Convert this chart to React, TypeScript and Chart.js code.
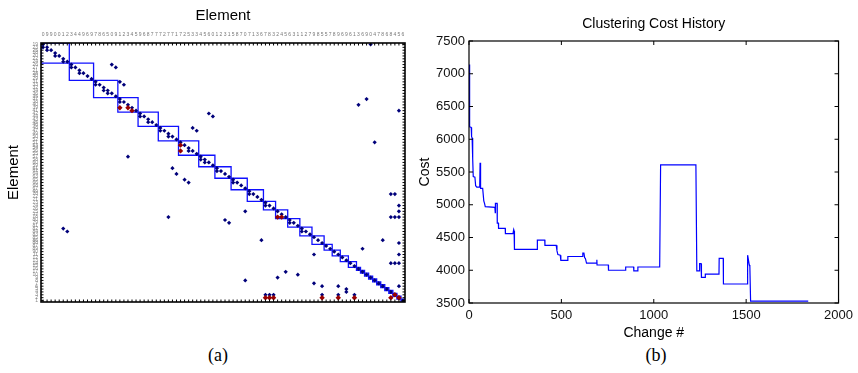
import React, { useEffect, useRef } from "react";
import { Chart, registerables } from "chart.js";

Chart.register(...registerables);

// ---------- Panel (a): element matrix ----------
const TOP_LABELS = "099001234496978650912345968777277172533456012315870713678324563112798557896961369047868456"
  .split("");
const LEFT_LABELS = (
  "19 23 25 18 20 22 24 26 27 21 28 30 29 31 33 32 34 36 35 37 38 40 39 41 42 44 43 45 46 48 " +
  "47 49 50 52 51 53 54 56 55 57 58 60 59 61 62 64 63 65 66 68 67 69 70 72 71 73 74 76 75 77 " +
  "78 80 79 81 82 84 83 85 86 88 87 89 90 11 12 13 14 15 16 17 10 9 8 7 6 5 4 3 2 1"
).split(" ");

// cluster boundaries (element index where each cluster starts; last = end)
const CLUSTER_EDGES = [0, 7, 13, 19, 24, 29, 34, 39, 43, 47, 51, 55, 58, 61, 64, 67, 70, 72, 74, 76, 78, 79, 80, 81, 82, 83, 84, 85, 86, 87, 88, 89, 90];

// blue marks: [column element, row element]
const BLUE_DOTS: [number, number][] = [
  [0, 0], [0, 1], [1, 1], [1, 2], [2, 2], [3, 3], [3, 4], [4, 4], [5, 5], [5, 6], [6, 6],
  [7, 7], [7, 8], [8, 8], [9, 9], [9, 10], [10, 10], [11, 11], [12, 12],
  [13, 13], [13, 14], [14, 14], [15, 15], [15, 16], [16, 16], [16, 17], [17, 17], [18, 18],
  [19, 19], [19, 20], [20, 20], [21, 21], [22, 22], [23, 23],
  [24, 24], [24, 25], [25, 25], [26, 26], [26, 27], [27, 27], [28, 28],
  [29, 29], [29, 30], [30, 30], [31, 31], [31, 32], [32, 32], [33, 33],
  [34, 34], [35, 35], [36, 36], [36, 37], [37, 37], [38, 38],
  [39, 39], [39, 40], [40, 40], [40, 41], [41, 41], [42, 42],
  [43, 43], [43, 44], [44, 44], [45, 45], [46, 46],
  [47, 47], [47, 48], [48, 48], [49, 49], [50, 50],
  [51, 51], [51, 52], [52, 52], [53, 53], [54, 54],
  [55, 55], [55, 56], [56, 56], [57, 57],
  [58, 58], [59, 59], [60, 60],
  [61, 61], [61, 62], [62, 62], [63, 63],
  [64, 64], [64, 65], [65, 65], [66, 66],
  [67, 67], [68, 68], [69, 69], [70, 70], [71, 71], [72, 72], [73, 73], [74, 74],
  [75, 75], [76, 76], [77, 77], [78, 78], [79, 79], [80, 80], [81, 81], [82, 82],
  [83, 83], [84, 84], [85, 85], [86, 86], [87, 87], [88, 88], [89, 89],
  // off-diagonal
  [17, 7], [18, 8], [19, 13], [20, 14], [78, 21], [80, 19], [88, 23], [41, 24], [42, 25],
  [37, 29], [38, 30], [82, 34], [21, 39], [32, 43], [33, 45], [35, 47], [36, 48],
  [86, 52], [87, 52], [88, 56], [88, 58], [86, 60], [87, 60], [88, 60], [31, 60],
  [45, 61], [46, 62], [50, 58], [5, 64], [6, 65], [54, 68], [84, 68], [88, 69], [79, 71],
  [67, 73], [86, 76], [87, 76], [88, 73], [88, 76], [60, 79], [63, 80], [58, 81], [50, 82],
  [67, 83], [69, 84], [73, 84], [75, 85], [75, 86], [88, 84], [81, 0],
  [55, 87], [56, 87], [57, 87], [69, 87], [73, 87], [77, 87],
];

const RED_DOTS: [number, number][] = [
  [19, 22], [21, 22], [22, 23], [34, 35], [34, 37], [58, 60], [59, 60],
  [55, 88], [56, 88], [57, 88], [69, 88], [73, 88], [77, 88], [86, 88], [87, 87], [88, 88],
];

// ---------- Panel (b): clustering cost history ----------
const CHANGE = [
  0, 1, 4, 5, 12, 14, 17, 20, 23, 32, 36, 42, 58, 60, 61, 63, 64, 74, 80, 84, 88, 140, 142, 143,
  152, 153, 159, 160, 196, 197, 238, 242, 244, 246, 369, 370, 410, 411, 472, 476, 481, 494, 497,
  533, 535, 613, 616, 622, 626, 630, 636, 690, 692, 693, 754, 755, 847, 848, 891, 892, 913, 914,
  1032, 1037, 1228, 1233, 1246, 1248, 1256, 1258, 1278, 1279, 1353, 1354, 1376, 1377, 1506, 1508,
  1517, 1520, 1524, 1836,
];
const COST = [
  7140, 6600, 6580, 6190, 6180, 6040, 6020, 5700, 5430, 5420, 5290, 5270, 5270, 5640, 5270, 5640,
  5250, 5250, 5060, 5020, 4970, 4960, 4880, 5020, 5020, 4720, 4720, 4640, 4640, 4560, 4560, 4620,
  4600, 4320, 4320, 4460, 4460, 4380, 4380, 4300, 4240, 4230, 4150, 4150, 4210, 4210, 4260, 4260,
  4190, 4180, 4110, 4110, 4160, 4080, 4080, 4000, 4000, 4050, 4050, 3990, 3990, 4050, 4050, 5610,
  5610, 3990, 3990, 4100, 4100, 3890, 3890, 3940, 3940, 4180, 4180, 3790, 3790, 4230, 4080, 4060,
  3530, 3530,
];
const X_TICKS = [0, 500, 1000, 1500, 2000];
const Y_TICKS = [3500, 4000, 4500, 5000, 5500, 6000, 6500, 7000, 7500];

const SANS = "'Liberation Sans', Arial, sans-serif";

const framePlugin = {
  id: "frame",
  afterDatasetsDraw(chart: any, _args: any, opts: any) {
    const { ctx, chartArea: a } = chart;
    const xs = chart.scales.x;
    const ys = chart.scales.y;
    ctx.save();
    ctx.strokeStyle = opts.color || "#000";
    ctx.lineWidth = opts.tickWidth || 1;
    ctx.beginPath();
    for (const t of xs.ticks) {
      const p = xs.getPixelForValue(t.value);
      ctx.moveTo(p, a.top);
      ctx.lineTo(p, a.top + opts.len);
      ctx.moveTo(p, a.bottom);
      ctx.lineTo(p, a.bottom - opts.len);
    }
    for (const t of ys.ticks) {
      const p = ys.getPixelForValue(t.value);
      ctx.moveTo(a.left, p);
      ctx.lineTo(a.left + opts.len, p);
      ctx.moveTo(a.right, p);
      ctx.lineTo(a.right - opts.len, p);
    }
    ctx.stroke();
    ctx.lineWidth = opts.width || 1;
    ctx.strokeRect(a.left, a.top, a.right - a.left, a.bottom - a.top);
    ctx.restore();
  },
};

function MatrixChart() {
  const ref = useRef<HTMLCanvasElement>(null);
  useEffect(() => {
    const boxes: any[] = [];
    for (let c = 0; c < CLUSTER_EDGES.length - 1; c++) {
      const s = CLUSTER_EDGES[c] - 0.5;
      const e = CLUSTER_EDGES[c + 1] - 0.5;
      boxes.push({ x: s, y: s }, { x: e, y: s }, { x: e, y: e }, { x: s, y: e }, { x: s, y: s }, { x: null, y: null });
    }
    const chart = new Chart(ref.current!, {
      type: "scatter",
      data: {
        datasets: [
          {
            data: RED_DOTS.map(([x, y]) => ({ x, y })),
            pointStyle: "rectRot",
            pointRadius: 2.7,
            pointBackgroundColor: "#990000",
            pointBorderWidth: 0,
          },
          {
            data: BLUE_DOTS.map(([x, y]) => ({ x, y })),
            pointStyle: "rectRot",
            pointRadius: 2.1,
            pointBackgroundColor: "#00007a",
            pointBorderWidth: 0,
          },
          {
            data: boxes,
            showLine: true,
            pointRadius: 0,
            borderColor: "#1010ff",
            borderWidth: 1.3,
            spanGaps: false,
          } as any,
        ],
      },
      options: {
        animation: false,
        responsive: false,
        devicePixelRatio: 1,
        layout: { padding: { left: 0, right: 5, top: 0, bottom: 38 } },
        plugins: {
          legend: { display: false },
          tooltip: { enabled: false },
          title: {
            display: true,
            text: "Element",
            fullSize: false,
            color: "#000",
            font: { family: SANS, size: 15, weight: "normal" },
            padding: { top: 7, bottom: 2 },
          },
          frame: { len: 2.5, width: 1.6, tickWidth: 1, color: "#000" },
        } as any,
        scales: {
          x: {
            type: "linear",
            position: "top",
            min: -0.5,
            max: 89.5,
            afterBuildTicks: (s: any) => {
              s.ticks = TOP_LABELS.map((_, i) => ({ value: i }));
            },
            afterFit: (s: any) => {
              s.height = 16;
            },
            ticks: {
              autoSkip: false,
              maxRotation: 0,
              minRotation: 0,
              padding: 5,
              color: "#777",
              font: { family: SANS, size: 5 },
              callback: (v: any) => TOP_LABELS[v] ?? "",
            },
            grid: { display: false, drawTicks: false },
            border: { display: false },
          },
          y: {
            type: "linear",
            reverse: true,
            min: -0.5,
            max: 89.5,
            afterBuildTicks: (s: any) => {
              s.ticks = LEFT_LABELS.map((_, i) => ({ value: i }));
            },
            afterFit: (s: any) => {
              s.width = 41;
            },
            ticks: {
              autoSkip: false,
              padding: 3,
              color: "#888",
              font: { family: SANS, size: 5 },
              callback: (v: any) => LEFT_LABELS[v] ?? "",
            },
            grid: { display: false, drawTicks: false },
            border: { display: false },
            title: {
              display: true,
              text: "Element",
              color: "#000",
              font: { family: SANS, size: 15 },
              padding: { top: 5, bottom: 0 },
            },
          },
        },
      },
      plugins: [framePlugin],
    } as any);
    return () => chart.destroy();
  }, []);
  return <canvas ref={ref} width={410} height={340} style={{ position: "absolute", left: 0, top: 0 }} />;
}

function CostChart() {
  const ref = useRef<HTMLCanvasElement>(null);
  useEffect(() => {
    const chart = new Chart(ref.current!, {
      type: "scatter",
      data: {
        datasets: [
          {
            data: CHANGE.map((x, i) => ({ x, y: COST[i] })),
            showLine: true,
            pointRadius: 0,
            borderColor: "#0000ff",
            borderWidth: 1.2,
            tension: 0,
          },
        ],
      },
      options: {
        animation: false,
        responsive: false,
        devicePixelRatio: 1,
        layout: { padding: { left: 0, right: 15, top: 0, bottom: 0 } },
        plugins: {
          legend: { display: false },
          tooltip: { enabled: false },
          title: {
            display: true,
            text: "Clustering Cost History",
            fullSize: false,
            color: "#000",
            font: { family: SANS, size: 14, weight: "normal" },
            padding: { top: 16, bottom: 8.2 },
          },
          frame: { len: 4, width: 1.2, tickWidth: 1, color: "#000" },
        } as any,
        scales: {
          x: {
            type: "linear",
            min: 0,
            max: 2000,
            afterBuildTicks: (s: any) => {
              s.ticks = X_TICKS.map((v) => ({ value: v }));
            },
            afterFit: (s: any) => {
              s.height = 39;
            },
            ticks: {
              padding: 5,
              maxRotation: 0,
              color: "#111",
              font: { family: SANS, size: 13 },
              callback: (v: any) => String(v),
            },
            grid: { display: false, drawTicks: false },
            border: { display: false },
            title: {
              display: true,
              text: "Change #",
              color: "#000",
              font: { family: SANS, size: 14 },
              padding: { top: 0, bottom: 0 },
            },
          },
          y: {
            type: "linear",
            min: 3500,
            max: 7500,
            afterBuildTicks: (s: any) => {
              s.ticks = Y_TICKS.map((v) => ({ value: v }));
            },
            afterFit: (s: any) => {
              s.width = 59;
            },
            ticks: {
              padding: 4,
              color: "#111",
              font: { family: SANS, size: 13 },
              callback: (v: any) => String(v),
            },
            grid: { display: false, drawTicks: false },
            border: { display: false },
            title: {
              display: true,
              text: "Cost",
              color: "#000",
              font: { family: SANS, size: 14 },
              padding: { top: 6.6, bottom: 0 },
            },
          },
        },
      },
      plugins: [framePlugin],
    } as any);
    return () => chart.destroy();
  }, []);
  return <canvas ref={ref} width={448} height={342} style={{ position: "absolute", left: 410, top: 0 }} />;
}

const captionStyle: React.CSSProperties = {
  position: "absolute",
  top: 344,
  width: 60,
  textAlign: "center",
  fontFamily: "'Liberation Serif', 'Times New Roman', serif",
  fontSize: 18,
  lineHeight: "22px",
  color: "#000",
};

export default function App() {
  return (
    <div style={{ position: "absolute", left: 0, top: 0, width: 858, height: 373, background: "#fff", overflow: "hidden" }}>
      <MatrixChart />
      <CostChart />
      <div style={{ ...captionStyle, left: 188 }}>(a)</div>
      <div style={{ ...captionStyle, left: 626 }}>(b)</div>
    </div>
  );
}
